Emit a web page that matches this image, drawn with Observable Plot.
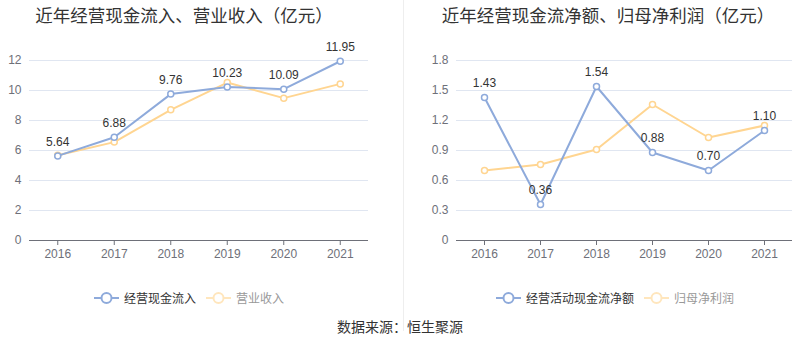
<!DOCTYPE html>
<html>
<head>
<meta charset="utf-8">
<script src="https://cdn.jsdelivr.net/npm/d3@7"></script>
<script src="https://cdn.jsdelivr.net/npm/@observablehq/plot@0.6"></script>
<style>
  html, body { margin: 0; padding: 0; background: #fff; }
  body { font-family: "Liberation Sans", "Noto Sans CJK SC", sans-serif; }
  #wrap { position: relative; width: 800px; height: 358px; overflow: hidden; }
  .title { position: absolute; top: 2px; font-size: 17.5px; color: #333; white-space: nowrap; transform: translateX(-50%); font-family: "Noto Sans CJK SC", sans-serif; font-weight: 400; }
  .plot { position: absolute; top: 0; }
  .legend { position: absolute; top: 289px; font-size: 12px; display: flex; align-items: center; white-space: nowrap; font-family: "Noto Sans CJK SC", sans-serif; }
  .legend .item { display: flex; align-items: center; margin-right: 10px; }
  .legend svg { margin-right: 5px; }
  #divider { position: absolute; left: 403px; top: 0; width: 1px; height: 331px; background: #eeeeee; }
  #caption { position: absolute; top: 316px; left: 400px; transform: translateX(-50%); font-size: 14px; color: #333; white-space: nowrap; font-family: "Noto Sans CJK SC", sans-serif; }
</style>
</head>
<body>
<div id="wrap"></div>
<script>
const years = ["2016", "2017", "2018", "2019", "2020", "2021"];
// Left chart
const leftTitle = "近年经营现金流入、营业收入（亿元）";
const cashInflow = [5.64, 6.88, 9.76, 10.23, 10.09, 11.95];
const revenue = [5.68, 6.56, 8.71, 10.53, 9.49, 10.44];
const leftTicks = [0, 2, 4, 6, 8, 10, 12];
const leftNames = ["经营现金流入", "营业收入"];
// Right chart
const rightTitle = "近年经营现金流净额、归母净利润（亿元）";
const netCash = [1.43, 0.36, 1.54, 0.88, 0.70, 1.10];
const netProfit = [0.70, 0.76, 0.91, 1.36, 1.03, 1.15];
const rightTicks = [0, 0.3, 0.6, 0.9, 1.2, 1.5, 1.8];
const rightNames = ["经营活动现金流净额", "归母净利润"];
const caption = "数据来源：恒生聚源";

const BLUE = "#8eaadb";
const ORANGE = "#ffd591";

function makeChart({a, b, ticks, domain, marginLeft, marginRight, tickFmt, labelFmt}) {
  const dA = years.map((y, i) => ({year: y, v: a[i]}));
  const dB = years.map((y, i) => ({year: y, v: b[i]}));
  return Plot.plot({
    width: 400,
    height: 270,
    marginTop: 60,
    marginBottom: 30,
    marginLeft,
    marginRight,
    style: {fontFamily: "Liberation Sans, sans-serif", fontSize: "12px", color: "#6e7079", background: "transparent"},
    x: {type: "point", domain: years, padding: 0.5, round: false, label: null},
    y: {domain, label: null},
    marks: [
      Plot.gridY(ticks, {stroke: "#e0e6f1", strokeOpacity: 1}),
      Plot.axisY({ticks, tickSize: 0, tickPadding: 8, tickFormat: tickFmt, fill: "#6e7079", fontSize: 12}),
      Plot.ruleY([0], {stroke: "#6e7079"}),
      Plot.axisX({tickSize: 5, tickPadding: 4, stroke: "#6e7079", fill: "#6e7079", fontSize: 12}),
      Plot.line(dB, {x: "year", y: "v", stroke: ORANGE, strokeWidth: 2}),
      Plot.dot(dB, {x: "year", y: "v", r: 3, fill: "white", stroke: ORANGE, strokeWidth: 1.5}),
      Plot.line(dA, {x: "year", y: "v", stroke: BLUE, strokeWidth: 2}),
      Plot.dot(dA, {x: "year", y: "v", r: 3, fill: "white", stroke: BLUE, strokeWidth: 1.5}),
      Plot.text(dA, {x: "year", y: "v", text: d => labelFmt(d.v), dy: -14, fill: "#333", fontSize: 12})
    ]
  });
}

function legendHTML(names, left) {
  const div = document.createElement("div");
  div.className = "legend";
  div.style.left = left + "px";
  const cols = [BLUE, "#ffe6bd"];
  const textCols = ["#333", "#999"];
  names.forEach((n, i) => {
    const it = document.createElement("span");
    it.className = "item";
    it.innerHTML = `<svg width="25" height="14"><line x1="0" x2="25" y1="7" y2="7" stroke="${cols[i]}" stroke-width="2"/><circle cx="12.5" cy="7" r="5" fill="white" stroke="${cols[i]}" stroke-width="2"/></svg><span style="color:${textCols[i]}">${n}</span>`;
    div.appendChild(it);
  });
  return div;
}

const wrap = document.getElementById("wrap");

const left = makeChart({a: cashInflow, b: revenue, ticks: leftTicks, domain: [0, 12], marginLeft: 29, marginRight: 32, tickFmt: d => String(d), labelFmt: v => v.toFixed(2)});
left.classList.add("plot");
left.style.left = "0px";
wrap.appendChild(left);

const right = makeChart({a: netCash, b: netProfit, ticks: rightTicks, domain: [0, 1.8], marginLeft: 56, marginRight: 8, tickFmt: d => d === 0 ? "0" : d.toFixed(1), labelFmt: v => v.toFixed(2)});
right.classList.add("plot");
right.style.left = "400px";
wrap.appendChild(right);

const t1 = document.createElement("div");
t1.className = "title"; t1.style.left = "184px"; t1.textContent = leftTitle;
wrap.appendChild(t1);
const t2 = document.createElement("div");
t2.className = "title"; t2.style.left = "608px"; t2.textContent = rightTitle;
wrap.appendChild(t2);

const dv = document.createElement("div"); dv.id = "divider"; wrap.appendChild(dv);

wrap.appendChild(legendHTML(leftNames, 94));
wrap.appendChild(legendHTML(rightNames, 496));

const cap = document.createElement("div"); cap.id = "caption"; cap.textContent = caption;
wrap.appendChild(cap);
</script>
</body>
</html>
